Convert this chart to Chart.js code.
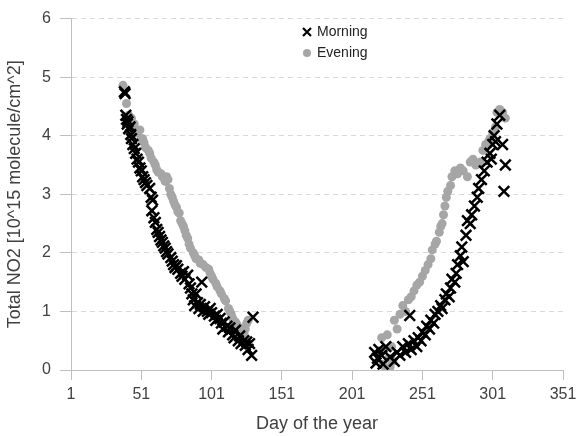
<!DOCTYPE html>
<html>
<head>
<meta charset="utf-8">
<script src="https://cdn.jsdelivr.net/npm/chart.js@4"></script>
<style>
  html, body { margin: 0; padding: 0; background: #fff; }
  #wrap { width: 577px; height: 436px; }
</style>
</head>
<body>
<div id="wrap"><canvas id="no2Chart" width="577" height="436"></canvas></div>
<script>
// Day of year and total NO2 column
const morningDay = [
  39, 39.5, 40, 40.5, 41, 41.5, 42, 43, 43.5, 44, 45, 46, 47, 48, 49, 50, 51, 52, 53, 54, 55, 57, 58, 59, 58.5, 60,
  61, 62, 63, 64, 65, 66, 67, 68, 69, 70, 72, 73, 74, 75, 76, 77, 79, 80, 81, 82, 84, 85, 86, 87, 88, 89, 90, 91,
  92, 93, 94, 95, 96, 98, 99, 100, 101, 103, 104, 105, 107, 108, 109, 110, 112, 113, 114, 116, 117, 118, 120, 121,
  122, 124, 125, 126, 127, 128, 129.5, 130.5,
  217, 218, 219, 220, 222, 223, 225, 228, 231, 233, 235, 237, 239, 241, 242, 243, 245, 247, 248, 250, 251, 253,
  254, 256, 257, 259, 260, 262, 264, 265, 267, 268, 270, 271, 272, 274, 275, 276, 278, 279, 280, 282, 283, 285,
  286, 288, 290, 291, 293, 295, 297, 299, 300, 301, 302, 303, 304, 306, 308, 309, 310
];
const morningNO2 = [
  4.75, 4.72, 4.35, 4.28, 4.2, 4.24, 4.12, 4.15, 4.02, 3.95, 3.85, 3.78, 3.7, 3.6, 3.55, 3.45, 3.4, 3.3, 3.25, 3.2, 3.15, 3.1, 2.95, 2.9, 2.72, 2.6,
  2.52, 2.4, 2.35, 2.28, 2.22, 2.18, 2.12, 2.08, 2.02, 1.98, 1.92, 1.86, 1.8, 1.75, 1.78, 1.72, 1.65, 1.6, 1.68, 1.55, 1.62, 1.47, 1.4, 1.3, 1.2, 1.1, 1.3, 1.15,
  1.05, 1.12, 1.5, 1.0, 1.08, 1.0, 0.95, 1.05, 0.98, 0.92, 0.85, 0.95, 0.88, 0.8, 0.7, 0.82, 0.75, 0.65, 0.72, 0.6, 0.55, 0.68, 0.5, 0.58,
  0.45, 0.5, 0.42, 0.48, 0.35, 0.45, 0.25, 0.9,
  0.3, 0.12, 0.2, 0.35, 0.25, 0.1, 0.4, 0.22, 0.15, 0.3, 0.25, 0.4, 0.3, 0.45, 0.93, 0.35, 0.5, 0.4, 0.55, 0.5, 0.65, 0.6,
  0.75, 0.7, 0.85, 0.8, 0.95, 1.0, 1.1, 1.05, 1.2, 1.3, 1.25, 1.4, 1.55, 1.5, 1.65, 1.8, 1.95, 2.1, 1.85, 2.3, 2.55, 2.5,
  2.65, 2.8, 2.95, 3.1, 3.25, 3.4, 3.55, 3.7, 3.6, 3.85, 4.0, 3.9, 4.2, 4.35, 3.85, 3.05, 3.5, 3.8
];
const eveningDay = [
  38, 40.5, 42, 43, 44, 45, 46, 47, 48, 50, 51, 52, 53, 54, 56, 57, 58, 60, 61, 62, 63, 65, 66, 67, 68, 69, 70,
  71, 72, 73, 74, 75, 76, 77, 78, 79, 80, 81, 82, 83, 84, 85, 86, 88, 89, 90, 92, 93, 95, 97, 99, 100, 101, 102,
  104, 105, 107, 108, 110, 111, 113, 114, 115, 116, 118, 119, 121, 122, 124, 125, 126, 127,
  221, 222, 223, 224, 225, 226, 227, 228, 229, 230, 231, 233, 235, 237, 239, 241, 243, 245, 247, 249, 251, 253, 255, 257,
  258, 260, 261, 263, 264, 265, 266, 267, 268, 269, 271, 272, 274, 276, 278, 280, 283, 285, 287, 289,
  292, 294, 296, 298, 299, 301, 303, 304, 306, 308, 310
];
const eveningNO2 = [
  4.86, 4.55, 4.35, 4.25, 4.3, 4.15, 4.2, 4.1, 4.05, 4.1, 3.95, 3.95, 3.88, 3.8, 3.75, 3.7, 3.62, 3.55, 3.5, 3.42, 3.38, 3.35, 3.3, 3.28, 3.22, 3.3, 3.25,
  3.1, 3.0, 2.95, 2.88, 2.82, 2.78, 2.7, 2.68, 2.55, 2.5, 2.45, 2.38, 2.3, 2.25, 2.15, 2.08, 2.0, 1.95, 1.9, 1.88, 1.82, 1.8, 1.75, 1.72, 1.65, 1.6, 1.55,
  1.48, 1.42, 1.35, 1.3, 1.22, 1.18, 1.05, 1.0, 0.95, 0.88, 0.82, 0.78, 0.72, 0.68, 0.62, 0.7, 0.8, 0.85,
  0.3, 0.55, 0.1, 0.35, 0.0, 0.6, 0.2, 0.05, 0.4, 0.15, 0.85, 0.7, 0.95, 1.1, 1.0, 1.2, 1.25, 1.35, 1.45, 1.5, 1.6, 1.7, 1.8, 1.9,
  2.05, 2.15, 2.2, 2.35, 2.45, 2.5, 2.65, 2.8, 2.95, 3.05, 3.15, 3.3, 3.4, 3.35, 3.45, 3.4, 3.3, 3.55, 3.6, 3.5,
  3.55, 3.75, 3.85, 3.9, 3.95, 4.05, 4.15, 4.4, 4.45, 4.4, 4.3
];
const xTicks = [1, 51, 101, 151, 201, 251, 301, 351];
const yTicks = [0, 1, 2, 3, 4, 5, 6];

const toPoints = (xs, ys) => xs.map((x, i) => ({ x: x, y: ys[i] }));

const textColor = '#404040';
const axisColor = '#bfbfbf';
const gridColor = '#d9d9d9';
const tickFont = { family: "'Liberation Sans', Arial, sans-serif", size: 16 };
const titleFont = { family: "'Liberation Sans', Arial, sans-serif", size: 18 };

// simple legend drawn inside the plot, top middle
const innerLegend = {
  id: 'innerLegend',
  afterDraw(chart) {
    const ctx = chart.ctx;
    const x = 307, y1 = 32, y2 = 53;
    ctx.save();
    ctx.strokeStyle = '#000';
    ctx.lineWidth = 2.2;
    ctx.beginPath();
    ctx.moveTo(x - 4, y1 - 4); ctx.lineTo(x + 4, y1 + 4);
    ctx.moveTo(x + 4, y1 - 4); ctx.lineTo(x - 4, y1 + 4);
    ctx.stroke();
    ctx.fillStyle = '#a6a6a6';
    ctx.beginPath();
    ctx.arc(x, y2, 4, 0, Math.PI * 2);
    ctx.fill();
    ctx.fillStyle = '#222';
    ctx.font = "14px 'Liberation Sans', Arial, sans-serif";
    ctx.textBaseline = 'middle';
    ctx.fillText('Morning', x + 10, y1);
    ctx.fillText('Evening', x + 10, y2);
    ctx.restore();
  }
};

new Chart(document.getElementById('no2Chart'), {
  type: 'scatter',
  data: {
    datasets: [
      {
        label: 'Morning',
        data: toPoints(morningDay, morningNO2),
        pointStyle: 'crossRot',
        pointRadius: 7.5,
        pointBorderWidth: 2.5,
        borderColor: '#000',
        backgroundColor: '#000'
      },
      {
        label: 'Evening',
        data: toPoints(eveningDay, eveningNO2),
        pointStyle: 'circle',
        pointRadius: 4.5,
        pointBorderWidth: 0,
        borderColor: '#a6a6a6',
        backgroundColor: '#a6a6a6'
      }
    ]
  },
  options: {
    responsive: false,
    animation: false,
    layout: { padding: { top: 16, right: 14, left: 0, bottom: 0 } },
    plugins: { legend: { display: false }, tooltip: { enabled: false } },
    scales: {
      x: {
        type: 'linear',
        min: 1,
        max: 351,
        afterBuildTicks: (s) => { s.ticks = xTicks.map(v => ({ value: v })); },
        afterFit: (s) => { s.height = 66; s.paddingRight = 4; s.paddingLeft = 0; },
        grid: { drawOnChartArea: false, tickLength: 10, tickColor: axisColor, tickBorderDash: [] },
        border: { color: axisColor, width: 1 },
        ticks: { color: textColor, font: tickFont, padding: 5, maxRotation: 0 },
        title: { display: true, text: 'Day of the year', color: textColor, font: titleFont, padding: { top: 2, bottom: 1 } }
      },
      y: {
        min: 0,
        max: 6,
        afterBuildTicks: (s) => { s.ticks = yTicks.map(v => ({ value: v })); },
        afterFit: (s) => { s.width = 71; },
        grid: { color: gridColor, tickLength: 11, tickColor: axisColor, tickBorderDash: [] },
        border: { color: axisColor, width: 1, dash: [5, 4] },
        ticks: { color: textColor, font: tickFont, padding: 9 },
        title: { display: true, text: 'Total NO2 [10^15 molecule/cm^2]', color: textColor, font: titleFont, padding: { top: 4, bottom: 0 } }
      }
    }
  },
  plugins: [innerLegend]
});
</script>
</body>
</html>
